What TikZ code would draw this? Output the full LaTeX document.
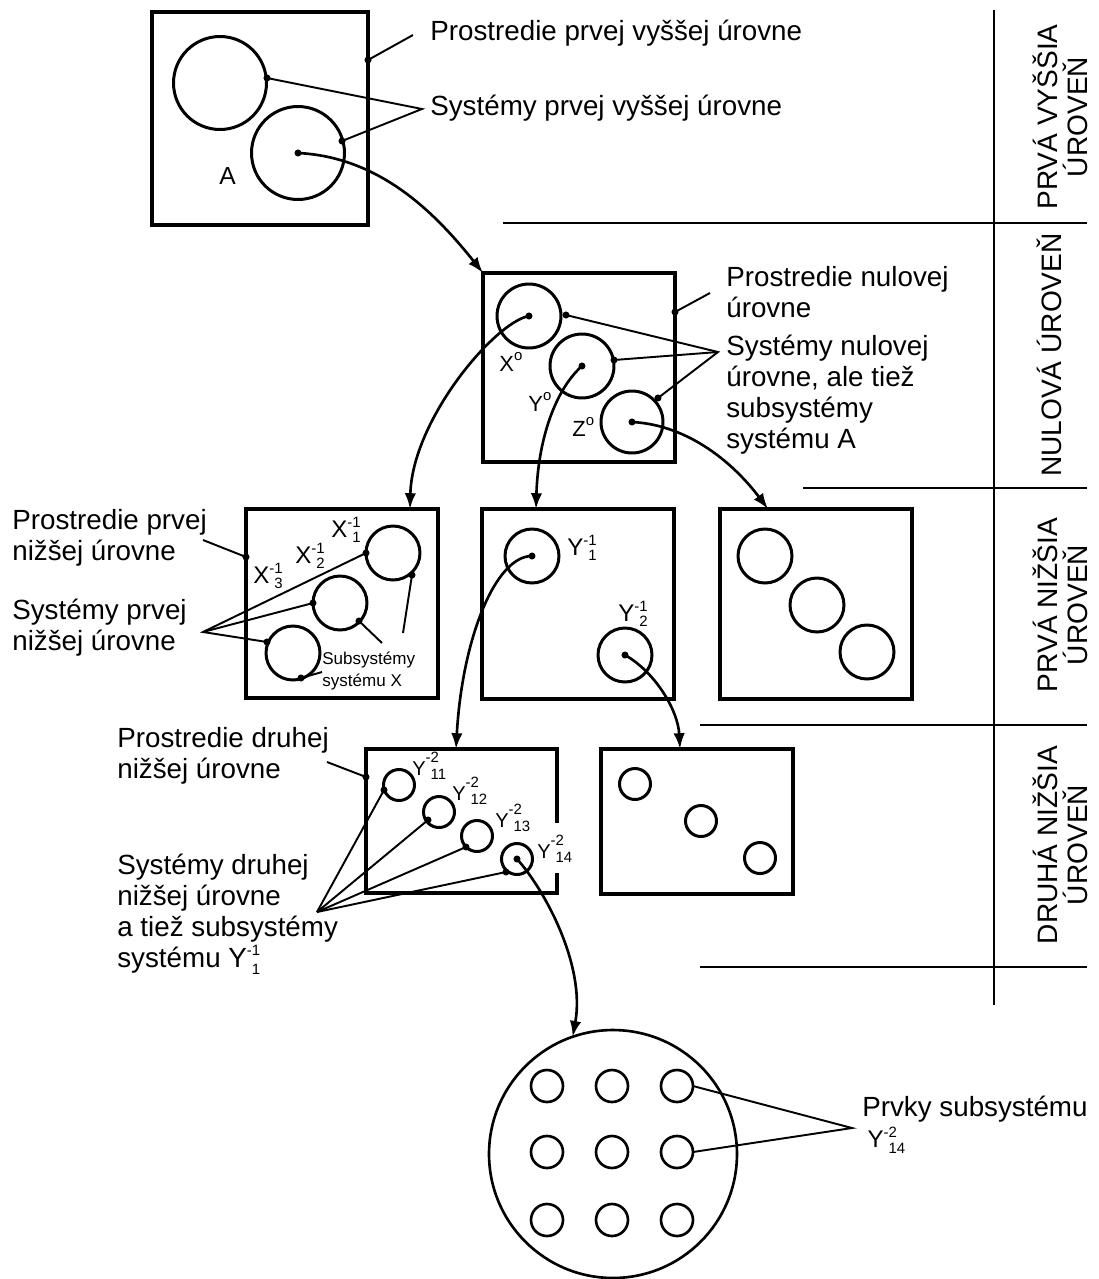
\documentclass[tikz,border=0pt]{standalone}
\usepackage{fontspec}
\setmainfont{Liberation Sans}
\usetikzlibrary{arrows.meta}

% letter with a stacked upper and lower index: size, letter, upper, lower, raise up, raise down
\newcommand{\ix}[6]{{\fontsize{#1}{#1}\selectfont #2}{\fontsize{8.5pt}{8.5pt}\selectfont\makebox[0pt][l]{\raisebox{#5}{#3}}\raisebox{#6}{\phantom{-}#4}}}
% letter with a small raised o
\newcommand{\dgr}[1]{#1\raisebox{6pt}{\fontsize{8.5pt}{8.5pt}\selectfont o}}

\begin{document}
\begin{tikzpicture}[x=0.02cm, y=-0.02cm,
  frame/.style={draw, line width=1.9pt, inner sep=0pt, outer sep=0pt, anchor=north west},
  sys/.style={circle, draw, line width=1.7pt, inner sep=0pt, outer sep=0pt},
  lead/.style={line width=1.1pt},
  flow/.style={line width=1.5pt, -{Latex[length=9pt,width=6.5pt]}},
  txt/.style={font=\fontsize{15.8pt}{17.6pt}\selectfont, align=left, inner sep=0pt, anchor=west},
  small/.style={font=\fontsize{9.7pt}{12.5pt}\selectfont, align=left, inner sep=0pt, anchor=west},
  lbl/.style={inner sep=0pt, anchor=base west},
  lvl/.style={font=\fontsize{16pt}{17pt}\selectfont, align=center, rotate=90, inner sep=0pt},
  rule/.style={line width=1.5pt}]

\fill[white] (0,0) rectangle (1099,1279);
\useasboundingbox (0,0) rectangle (1099,1279);

% ---------- level dividers and level names ----------
\draw[rule] (994,10) -- (994,1005);
\draw[rule] (503,223) -- (1087,223);
\draw[rule] (803,488) -- (1087,488);
\draw[rule] (700,725) -- (1087,725);
\draw[rule] (700,967) -- (1087,967);
\node[lvl] (L1) at (1060,117) {PRVÁ VYŠŠIA\\ÚROVEŇ};
\node[lvl] (L0) at (1049,355) {NULOVÁ ÚROVEŇ};
\node[lvl] (Lm1) at (1060,605) {PRVÁ NIŽŠIA\\ÚROVEŇ};
\node[lvl] (Lm2) at (1060,845) {DRUHÁ NIŽŠIA\\ÚROVEŇ};

% ---------- first higher level ----------
\node[frame, minimum width=4.32cm, minimum height=4.26cm] (E1) at (152,12) {};
\node[sys, minimum size=1.86cm] (S1) at (220,83) {};
\node[sys, minimum size=1.86cm] (SA) at (298,153) {};
\node[lbl, font=\fontsize{14pt}{14pt}\selectfont] (lA) at (219,184) {A};

\coordinate (pE1) at (368,60);  \coordinate (kE1) at (413,35);
\coordinate (pS1) at (267,78);  \coordinate (pSA) at (342,141);
\coordinate (kS) at (422,109);
\foreach \p in {pE1,pS1,pSA} \fill (\p) circle[radius=2pt];
\fill (SA.center) circle[radius=2pt];
\draw[lead] (pE1) -- (kE1);
\draw[lead] (pS1) -- (kS) -- (pSA);
\node[txt] (t1) at (430,33) {Prostredie prvej vyššej úrovne};
\node[txt] (t2) at (430,108) {Systémy prvej vyššej úrovne};

% ---------- zero level ----------
\node[frame, minimum width=3.84cm, minimum height=3.78cm] (E0) at (483,273) {};
\node[sys, minimum size=1.28cm] (X0) at (529,316) {};
\node[sys, minimum size=1.28cm] (Y0) at (582,366) {};
\node[sys, minimum size=1.24cm] (Z0) at (632,422) {};
\node[lbl, font=\fontsize{12.5pt}{12.5pt}\selectfont] (lX0) at (499,371) {\dgr{X}};
\node[lbl, font=\fontsize{12.5pt}{12.5pt}\selectfont] (lY0) at (528,411) {\dgr{Y}};
\node[lbl, font=\fontsize{12.5pt}{12.5pt}\selectfont] (lZ0) at (572,436) {\dgr{Z}};

\coordinate (pE0) at (675,312); \coordinate (kE0) at (710,293);
\coordinate (pX0) at (566,315); \coordinate (pY0) at (614,360); \coordinate (pZ0) at (658,398);
\coordinate (kS0) at (718,352);
\foreach \p in {pE0,pX0,pY0,pZ0} \fill (\p) circle[radius=2pt];
\foreach \p in {X0,Y0,Z0} \fill (\p.center) circle[radius=2pt];
\draw[lead] (pE0) -- (kE0);
\draw[lead] (pX0) -- (kS0) -- (pZ0);
\draw[lead] (pY0) -- (kS0);
\node[txt] (t3) at (726,292) {Prostredie nulovej\\úrovne};
\node[txt] (t4) at (726,395) {Systémy nulovej\\úrovne, ale tiež\\subsystémy\\systému A};

\draw[flow] (SA.center) .. controls +(80,4) and +(-50,-63) .. (E0.north west);

% ---------- first lower level ----------
\node[frame, minimum width=3.84cm, minimum height=3.78cm] (EX) at (246,509) {};
\node[frame, minimum width=3.84cm, minimum height=3.8cm] (EY1) at (482,509) {};
\node[frame, minimum width=3.84cm, minimum height=3.8cm] (EZ1) at (720,509) {};

\node[sys, minimum size=1.08cm] (X1) at (393,553) {};
\node[sys, minimum size=1.08cm] (X2) at (340,603) {};
\node[sys, minimum size=1.08cm] (X3) at (293,653) {};
\node[lbl] (lX1) at (331,537) {\ix{13.7pt}{X}{-1}{1}{5.6pt}{-3pt}};
\node[lbl] (lX2) at (295,563) {\ix{13.7pt}{X}{-1}{2}{5.6pt}{-3pt}};
\node[lbl] (lX3) at (253,583) {\ix{13.7pt}{X}{-1}{3}{5.6pt}{-3pt}};

\coordinate (pEX) at (246,557); \coordinate (kEX) at (203,540);
\coordinate (pX1) at (366,553); \coordinate (pX2) at (313,603); \coordinate (pX3) at (267,642);
\coordinate (kSX) at (203,632);
\coordinate (qX1) at (412,575); \coordinate (rX1) at (403,633);
\coordinate (qX2) at (359,621); \coordinate (rX2) at (382,643);
\coordinate (qX3) at (301,678); \coordinate (rX3) at (322,672);
\foreach \p in {pEX,pX1,pX2,pX3,qX1,qX2,qX3} \fill (\p) circle[radius=2pt];
\draw[lead] (pEX) -- (kEX);
\draw[lead] (pX1) -- (kSX) -- (pX3);
\draw[lead] (pX2) -- (kSX);
\draw[lead] (qX1) -- (rX1);
\draw[lead] (qX2) -- (rX2);
\draw[lead] (qX3) -- (rX3);
\node[txt] (t5) at (12,538) {Prostredie prvej\\nižšej úrovne};
\node[txt] (t6) at (12,628) {Systémy prvej\\nižšej úrovne};
\node[small] (t7) at (322,671) {Subsystémy\\systému X};

\node[sys, minimum size=1.08cm] (Y1) at (532,556) {};
\node[sys, minimum size=1.08cm] (Y2) at (625,655) {};
\node[lbl] (lY1) at (567,555) {\ix{13.7pt}{Y}{-1}{1}{5.6pt}{-3pt}};
\node[lbl] (lY2) at (618,621) {\ix{13.7pt}{Y}{-1}{2}{5.6pt}{-3pt}};
\fill (Y1.center) circle[radius=2pt];
\fill (Y2.center) circle[radius=2pt];

\node[sys, minimum size=1.08cm] (Z1) at (765,556) {};
\node[sys, minimum size=1.08cm] (Z2) at (817,605) {};
\node[sys, minimum size=1.08cm] (Z3) at (867,652) {};

\coordinate (aX) at (410,509);
\coordinate (aY1) at (536,509);
\coordinate (aZ1) at (768,509);
\draw[flow] (X0.center) .. controls +(-34,6) and +(2,-89) .. (aX);
\draw[flow] (Y0.center) .. controls +(-27,24) and +(2,-69) .. (aY1);
\draw[flow] (Z0.center) .. controls +(58,3) and +(-33,-44) .. (aZ1);

% ---------- second lower level ----------
\coordinate (g1) at (557,823); \coordinate (g2) at (557,873);
\coordinate (cTL) at (366,749); \coordinate (cBR) at (557,893);
\draw[line width=1.9pt] (g1) |- (cTL) |- (cBR) -- (g2);
\node[frame, minimum width=3.84cm, minimum height=2.9cm] (EY2b) at (601,749) {};

\node[sys, minimum size=0.62cm] (Y11) at (399,785) {};
\node[sys, minimum size=0.62cm] (Y12) at (439,812) {};
\node[sys, minimum size=0.62cm] (Y13) at (477,836) {};
\node[sys, minimum size=0.62cm] (Y14) at (517,859) {};
\node[lbl] (lY11) at (412,775) {\ix{11.4pt}{Y}{-2}{11}{7.4pt}{-2.8pt}};
\node[lbl] (lY12) at (452,800) {\ix{11.4pt}{Y}{-2}{12}{7.4pt}{-2.8pt}};
\node[lbl] (lY13) at (495,827) {\ix{11.4pt}{Y}{-2}{13}{7.4pt}{-2.8pt}};
\node[lbl] (lY14) at (537,858) {\ix{11.4pt}{Y}{-2}{14}{7.4pt}{-2.8pt}};

\node[sys, minimum size=0.62cm] (W1) at (635,784) {};
\node[sys, minimum size=0.62cm] (W2) at (701,821) {};
\node[sys, minimum size=0.62cm] (W3) at (760,858) {};

\coordinate (pEY2) at (366,777); \coordinate (kEY2) at (327,762);
\coordinate (pY11) at (384,790); \coordinate (pY12) at (428,820);
\coordinate (pY13) at (466,847); \coordinate (pY14) at (506,872);
\coordinate (kSY) at (317,912);
\foreach \p in {pEY2,pY11,pY12,pY13,pY14} \fill (\p) circle[radius=2pt];
\fill (Y14.center) circle[radius=2pt];
\draw[lead] (pEY2) -- (kEY2);
\foreach \p in {pY11,pY12,pY13,pY14} \draw[lead] (\p) -- (kSY);
\node[txt] (t8) at (117,756) {Prostredie druhej\\nižšej úrovne};
\node[txt] (t9) at (117,914) {Systémy druhej\\nižšej úrovne\\a tiež subsystémy\\systému \ix{15.8pt}{Y}{-1}{1}{6.5pt}{-4pt}};

\coordinate (aY2) at (456,749);
\coordinate (aW) at (680,749);
\draw[flow] (Y1.center) .. controls +(-37,0) and +(6,-109) .. (aY2);
\draw[flow] (Y2.center) .. controls +(30,17) and +(-2,-39) .. (aW);

% ---------- elements of the subsystem ----------
\node[sys, minimum size=4.96cm, line width=1.5pt] (Big) at (613,1154) {};
\foreach \r/\y in {1/1086,2/1152,3/1220}
  \foreach \c/\x in {1/547,2/612,3/677}
    \node[sys, minimum size=0.64cm, line width=1.5pt] (m\r\c) at (\x,\y) {};
\coordinate (kM) at (852,1128);
\draw[lead] (m13.east) -- (kM) -- (m23.east);
\node[txt] (t10) at (862,1125) {Prvky subsystému\\\hspace*{3pt}\ix{13.7pt}{Y}{-2}{14}{5.8pt}{-3.5pt}};

\draw[flow] (Y14.center) .. controls +(28,31) and +(13,-71) .. (Big.109);

\end{tikzpicture}
\end{document}
